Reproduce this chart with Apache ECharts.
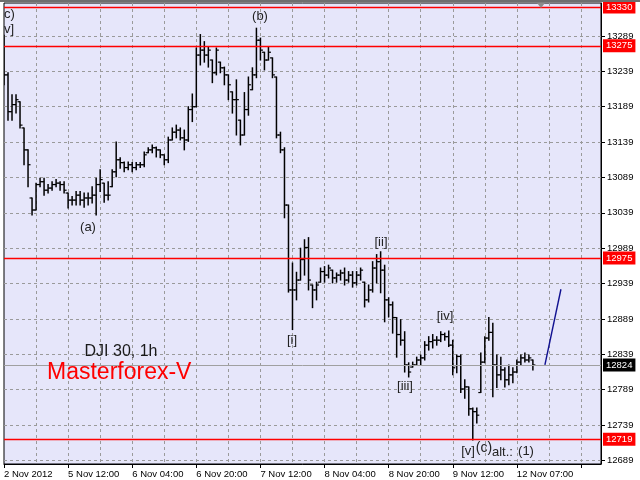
<!DOCTYPE html>
<html>
<head>
<meta charset="utf-8">
<script src="https://cdn.jsdelivr.net/npm/echarts@6/dist/echarts.min.js"></script>
<style>
html,body{margin:0;padding:0;background:#fff;}
#chart{width:640px;height:480px;}
</style>
</head>
<body>
<div id="chart"></div>
<script>
// ---- data (DJI 30, 1h bars) ----
const opens = [13283,13234,13182,13192,13196,13159,13128,13060,13043,13079,13083,13071,13074,13079,13081,13079,13067,13057,13057,13064,13057,13060,13060,13064,13079,13081,13064,13076,13097,13114,13110,13103,13107,13103,13107,13107,13124,13128,13131,13128,13121,13114,13142,13153,13156,13145,13142,13185,13189,13262,13269,13262,13255,13237,13252,13244,13234,13210,13199,13170,13149,13185,13213,13234,13283,13266,13255,13258,13231,13149,13128,13050,12930,12930,12944,12973,12990,12937,12930,12941,12956,12951,12958,12947,12951,12954,12944,12951,12940,12951,12941,12916,12930,12961,12970,12958,12916,12909,12891,12867,12859,12824,12821,12824,12831,12834,12852,12857,12859,12859,12867,12864,12852,12823,12836,12790,12793,12762,12758,12785,12828,12862,12870,12824,12810,12817,12803,12810,12814,12828,12834,12831,12831];
const highs = [13290,13237,13206,13206,13196,13159,13128,13060,13081,13088,13088,13079,13083,13086,13083,13083,13067,13062,13069,13069,13067,13067,13076,13088,13100,13081,13083,13100,13139,13117,13111,13111,13110,13110,13110,13125,13131,13135,13132,13128,13121,13146,13159,13163,13159,13156,13189,13207,13272,13291,13281,13274,13255,13272,13252,13245,13234,13210,13227,13170,13209,13231,13244,13300,13286,13266,13273,13258,13231,13153,13131,13050,12968,12955,12989,13001,13004,12937,12941,12961,12963,12965,12958,12954,12958,12961,12956,12956,12956,12961,12941,12937,12970,12980,12984,12965,12919,12913,12891,12888,12871,12827,12828,12835,12838,12857,12864,12867,12864,12871,12869,12872,12859,12838,12838,12803,12793,12763,12763,12841,12864,12891,12883,12838,12835,12820,12824,12820,12831,12838,12841,12838,12831];
const lows = [13220,13170,13170,13180,13159,13107,13076,13036,13043,13076,13064,13067,13071,13076,13071,13067,13046,13050,13050,13050,13047,13050,13053,13036,13069,13054,13057,13076,13090,13102,13097,13100,13097,13100,13103,13104,13124,13124,13118,13117,13107,13110,13142,13145,13142,13128,13140,13168,13189,13248,13252,13245,13223,13234,13237,13220,13199,13180,13149,13135,13149,13177,13213,13230,13255,13241,13255,13230,13145,13124,13032,12927,12874,12916,12944,12951,12930,12905,12916,12941,12941,12947,12940,12941,12944,12937,12941,12934,12937,12944,12906,12913,12927,12940,12926,12885,12892,12869,12835,12852,12814,12807,12821,12824,12824,12831,12845,12848,12852,12857,12859,12850,12810,12813,12785,12777,12753,12718,12742,12785,12827,12859,12779,12792,12803,12793,12796,12799,12813,12824,12828,12828,12817];
const closes = [13234,13182,13192,13199,13163,13128,13107,13043,13079,13083,13071,13074,13079,13081,13079,13071,13057,13057,13064,13057,13060,13060,13064,13079,13086,13064,13064,13097,13114,13110,13103,13107,13103,13107,13107,13121,13128,13131,13128,13121,13114,13142,13153,13156,13145,13142,13185,13189,13262,13269,13262,13269,13237,13269,13244,13234,13220,13199,13199,13149,13185,13220,13234,13283,13269,13255,13266,13234,13149,13128,13050,12930,12930,12944,12973,12990,12944,12930,12937,12956,12951,12961,12947,12951,12954,12944,12951,12940,12951,12958,12916,12930,12961,12970,12958,12916,12909,12891,12867,12859,12824,12814,12824,12831,12834,12852,12857,12859,12859,12867,12864,12852,12820,12836,12790,12793,12762,12758,12753,12828,12862,12870,12824,12810,12817,12803,12810,12814,12828,12834,12831,12834,12824];

const totalSlots = 150;           // bar slots on the time axis
const timeLabels = ['2 Nov 2012','5 Nov 12:00','6 Nov 04:00','6 Nov 20:00','7 Nov 12:00','8 Nov 04:00','8 Nov 20:00','9 Nov 12:00','12 Nov 07:00'];
const labelEvery = 16;
const gridEvery = 8;
const priceTicks = [12689,12739,12789,12839,12889,12939,12989,13039,13089,13139,13189,13239,13289];
const redLevels = [13330,13275,12975,12719];
const lastPrice = 12824;
const projection = [[135,12824],[139,12931]];

// ---- build ----
const categories = [];
for (let i = 0; i < totalSlots; i++) {
  categories.push(i % labelEvery === 0 && timeLabels[i / labelEvery] ? timeLabels[i / labelEvery] : '');
}
const ohlc = opens.map((o, i) => [i, o, highs[i], lows[i], closes[i]]);

const FONT = 'Liberation Sans, Arial, sans-serif';
const chart = echarts.init(document.getElementById('chart'), null, {renderer: 'canvas'});

function txt(text, x, y, size, color, align) {
  return {type: 'text', x: x, y: y, z: 100,
    style: {text: text, font: size + 'px ' + FONT, fill: color, align: align || 'center', verticalAlign: 'middle'}};
}

chart.setOption({
  animation: false,
  backgroundColor: '#ffffff',
  grid: {left: 4, right: 39, top: 3, bottom: 16, show: true, backgroundColor: '#E6E6FA', borderColor: '#000', borderWidth: 1},
  xAxis: {
    type: 'category', data: categories, boundaryGap: false,
    axisLine: {show: true, lineStyle: {color: '#000', width: 1}},
    axisTick: {show: true, length: 4, interval: (i) => i % labelEvery === 0, lineStyle: {color: '#000'}},
    axisLabel: {interval: (i, v) => v !== '', align: 'left', margin: 5, color: '#000', fontSize: 9.5, fontFamily: FONT, hideOverlap: false},
    splitLine: {show: true, interval: (i) => i % gridEvery === 0 && i > 0, lineStyle: {color: '#9a9a9a', type: [3, 3], width: 1}}
  },
  yAxis: {
    type: 'value', position: 'right', min: 12684.0, max: 13335.6, scale: true,
    axisLine: {show: true, lineStyle: {color: '#000'}},
    axisTick: {show: true, length: 4, customValues: priceTicks, lineStyle: {color: '#000'}},
    axisLabel: {customValues: priceTicks, margin: 6, color: '#000', fontSize: 9.5, fontFamily: FONT, formatter: (v) => String(Math.round(v))},
    splitLine: {show: true, lineStyle: {color: '#9a9a9a', type: [3, 3], width: 1}}
  },
  series: [
    {
      type: 'custom', name: 'DJI', clip: true,
      data: ohlc,
      encode: {x: 0, y: [1, 2, 3, 4]},
      renderItem: function (params, api) {
        const x = api.value(0);
        const o = api.coord([x, api.value(1)]);
        const h = api.coord([x, api.value(2)]);
        const l = api.coord([x, api.value(3)]);
        const c = api.coord([x, api.value(4)]);
        const st = {stroke: '#000', lineWidth: 1.5};
        const tk = {stroke: '#000', lineWidth: 1.2};
        return {type: 'group', children: [
          {type: 'line', shape: {x1: h[0], y1: h[1] - 0.5, x2: l[0], y2: l[1] + 0.5}, style: st},
          {type: 'line', shape: {x1: o[0] - 2.5, y1: o[1], x2: o[0], y2: o[1]}, style: tk},
          {type: 'line', shape: {x1: c[0], y1: c[1], x2: c[0] + 2.5, y2: c[1]}, style: tk}
        ]};
      },
      markLine: {
        symbol: 'none', silent: true, animation: false, precision: 0,
        label: {show: true, position: 'end', distance: 2, color: '#fff', backgroundColor: '#ff0000',
          padding: [2, 3, 1, 3], fontSize: 9.5, fontFamily: FONT, formatter: (p) => String(p.value)},
        data: redLevels.map(v => ({yAxis: v, lineStyle: {color: '#ff0000', width: 1.3, type: 'solid'}}))
          .concat([{yAxis: lastPrice, lineStyle: {color: '#a0a0a0', width: 1, type: 'solid'},
            label: {backgroundColor: '#000', color: '#fff'}}])
      }
    },
    {
      type: 'line', name: 'projection', data: projection, symbol: 'none',
      lineStyle: {color: '#101090', width: 1.4}, z: 5
    }
  ],
  graphic: [
    {type: 'rect', shape: {x: 0, y: 0, width: 640, height: 2}, style: {fill: '#6e6e6e'}, z: 100},
    {type: 'polygon', shape: {points: [[537, 3], [545, 3], [541, 8]]}, style: {fill: '#8c8c8c'}, z: 100},
    txt('c)', 4, 14, 13, '#222', 'left'),
    txt('v]', 4, 29, 13, '#222', 'left'),
    txt('(b)', 260, 16, 13, '#222'),
    txt('(a)', 88, 227, 13, '#222'),
    txt('[i]', 292, 340, 13, '#222'),
    txt('[ii]', 381, 242, 13, '#222'),
    txt('[iii]', 405, 386, 13, '#222'),
    txt('[iv]', 445, 316, 13, '#222'),
    txt('[v]', 468, 451, 13, '#222'),
    txt('(c)', 484, 448, 14, '#222'),
    txt('alt.:', 492, 452, 13, '#222', 'left'),
    txt('(1)', 526, 451, 13, '#222'),
    txt('DJI 30, 1h', 121, 352, 16, '#1a1a1a'),
    txt('Masterforex-V', 47, 373, 23, '#ff0000', 'left')
  ]
});
</script>
</body>
</html>
